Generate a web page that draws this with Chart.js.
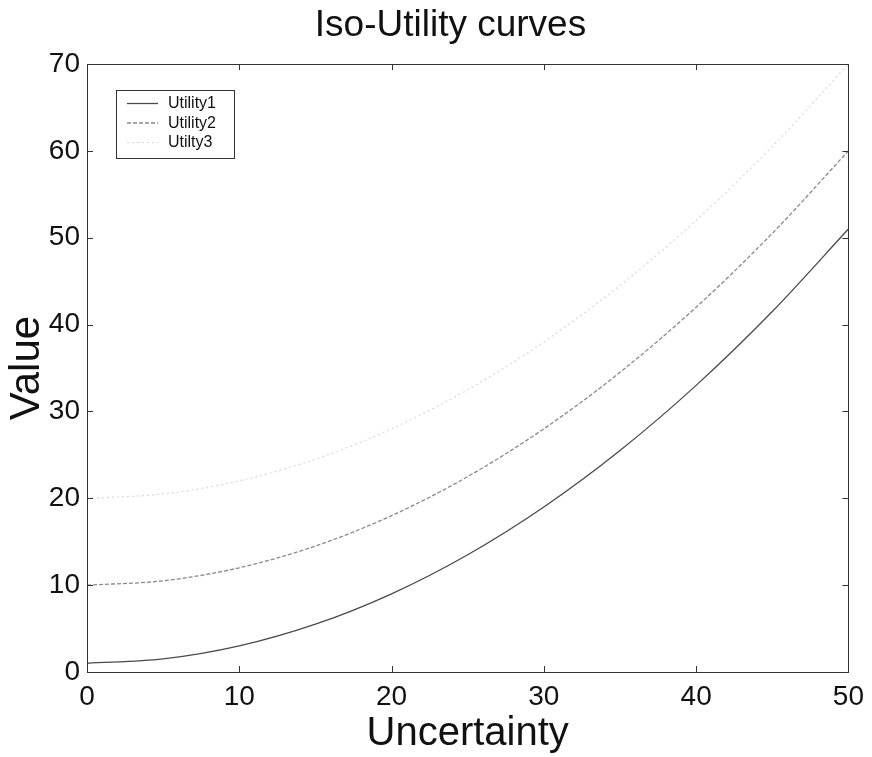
<!DOCTYPE html>
<html>
<head>
<meta charset="utf-8">
<title>Iso-Utility curves</title>
<script src="https://cdn.jsdelivr.net/npm/chart.js@4.4.1/dist/chart.umd.min.js"></script>
<style>
  html, body { margin: 0; padding: 0; background: #fff; }
</style>
</head>
<body>
<canvas id="myChart" width="872" height="757"></canvas>
<script>
// values
const uncertainty = [0, 5, 10, 15, 20, 25, 30, 35, 40, 45, 50];
const utility1 = [1, 1.5, 3, 5.5, 9, 13.5, 19, 25.5, 33, 41.5, 51];
const utility2 = [10, 10.5, 12, 14.5, 18, 22.5, 28, 34.5, 42, 50.5, 60];
const utility3 = [20, 20.5, 22, 24.5, 28, 32.5, 38, 44.5, 52, 60.5, 70];
const seriesNames = ["Utility1", "Utility2", "Utilty3"];
const xTicks = [0, 10, 20, 30, 40, 50];
const yTicks = [0, 10, 20, 30, 40, 50, 60, 70];

const FONT = "'Liberation Sans', Arial, Helvetica, sans-serif";

function pts(ys) {
  return uncertainty.map((x, i) => ({ x: x, y: ys[i] }));
}

// center the title over the axes box, like matlab does
const titleShift = {
  id: 'titleShift',
  afterLayout(chart) {
    if (chart.titleBlock) chart.titleBlock.left = 50;
  }
};

// matlab-like box with inward ticks on all four sides
const boxPlugin = {
  id: 'box',
  afterDatasetsDraw(chart) {
    const ctx = chart.ctx;
    const a = chart.chartArea;
    const xs = chart.scales.x, ys = chart.scales.y;
    const t = 6;
    ctx.save();
    ctx.strokeStyle = '#333';
    ctx.lineWidth = 1;
    ctx.strokeRect(Math.round(a.left) + 0.5, Math.round(a.top) + 0.5,
      Math.round(a.right - a.left), Math.round(a.bottom - a.top));
    ctx.beginPath();
    xTicks.forEach(v => {
      const px = Math.round(xs.getPixelForValue(v)) + 0.5;
      ctx.moveTo(px, a.bottom); ctx.lineTo(px, a.bottom - t);
      ctx.moveTo(px, a.top); ctx.lineTo(px, a.top + t);
    });
    yTicks.forEach(v => {
      const py = Math.round(ys.getPixelForValue(v)) + 0.5;
      ctx.moveTo(a.left, py); ctx.lineTo(a.left + t, py);
      ctx.moveTo(a.right, py); ctx.lineTo(a.right - t, py);
    });
    ctx.stroke();
    ctx.restore();
  }
};

// legend box drawn inside the plot, top left
const legendBox = {
  id: 'legendBox',
  afterDraw(chart) {
    const ctx = chart.ctx;
    const a = chart.chartArea;
    const x0 = a.left + 29, y0 = a.top + 26;
    const w = 118, h = 68;
    ctx.save();
    ctx.fillStyle = '#fff';
    ctx.fillRect(x0, y0, w, h);
    ctx.strokeStyle = '#333';
    ctx.lineWidth = 1;
    ctx.strokeRect(x0 + 0.5, y0 + 0.5, w, h);
    ctx.font = '16px ' + FONT;
    ctx.textBaseline = 'middle';
    chart.data.datasets.forEach((ds, i) => {
      const yy = y0 + 13 + i * 19.5;
      ctx.strokeStyle = ds.borderColor;
      ctx.lineWidth = ds.borderWidth;
      ctx.setLineDash(ds.borderDash || []);
      ctx.beginPath();
      ctx.moveTo(x0 + 11, yy + 0.5);
      ctx.lineTo(x0 + 42, yy + 0.5);
      ctx.stroke();
      ctx.setLineDash([]);
      ctx.fillStyle = '#111';
      ctx.fillText(ds.label, x0 + 52, yy + 1);
    });
    ctx.restore();
  }
};

new Chart("myChart", {
  type: "line",
  data: {
    datasets: [
      { label: seriesNames[0], data: pts(utility1), borderColor: '#4a4a4a', borderWidth: 1.3 },
      { label: seriesNames[1], data: pts(utility2), borderColor: '#8a8a8a', borderWidth: 1.3, borderDash: [4, 2] },
      { label: seriesNames[2], data: pts(utility3), borderColor: '#d8d8d8', borderWidth: 1.2, borderDash: [2, 3] }
    ]
  },
  options: {
    responsive: false,
    animation: false,
    layout: { padding: { left: 0, right: 21, top: 0, bottom: 0 } },
    elements: {
      point: { radius: 0 },
      line: { tension: 0.4, cubicInterpolationMode: 'monotone', fill: false }
    },
    plugins: {
      legend: { display: false },
      tooltip: { enabled: false },
      title: {
        display: true,
        text: "Iso-Utility curves",
        color: '#111',
        font: { family: FONT, size: 37, weight: 'normal' },
        padding: { top: 4, bottom: 15.6 }
      }
    },
    scales: {
      x: {
        type: 'linear',
        min: 0, max: 50,
        grid: { display: false, drawTicks: false },
        border: { display: false },
        afterFit: s => { s.height = 85; },
        ticks: {
          stepSize: 10, padding: 8, maxRotation: 0,
          color: '#111',
          font: { family: FONT, size: 28 }
        },
        title: {
          display: true, text: "Uncertainty", color: '#111',
          font: { family: FONT, size: 40, lineHeight: 1.15 },
          padding: { top: 0, bottom: 0 }
        }
      },
      y: {
        type: 'linear',
        min: 0, max: 70,
        grid: { display: false, drawTicks: false },
        border: { display: false },
        afterFit: s => { s.width = 87; },
        ticks: {
          stepSize: 10, padding: 7,
          color: '#111',
          font: { family: FONT, size: 28 }
        },
        title: {
          display: true, text: "Value", color: '#111',
          font: { family: FONT, size: 42 },
          padding: { top: 2, bottom: 0 }
        }
      }
    }
  },
  plugins: [titleShift, boxPlugin, legendBox]
});
</script>
</body>
</html>
